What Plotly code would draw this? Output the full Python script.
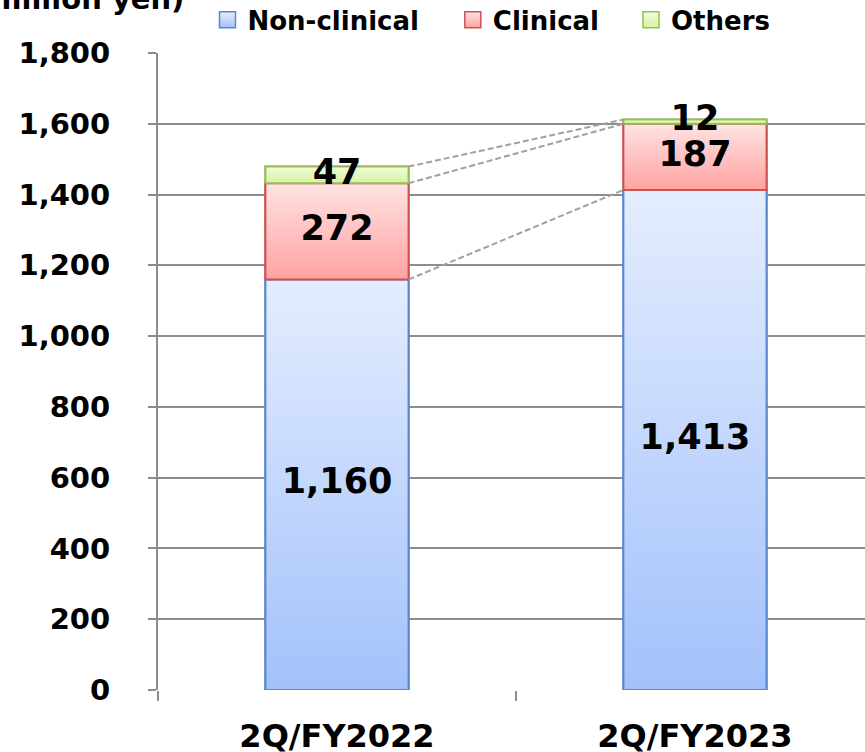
import plotly.graph_objects as go

categories = ["2Q/FY2022", "2Q/FY2023"]
series_names = ["Non-clinical", "Clinical", "Others"]
non_clinical = [1160, 1413]
clinical = [272, 187]
others = [47, 12]
y_ticks = [0, 200, 400, 600, 800, 1000, 1200, 1400, 1600, 1800]

values = [non_clinical, clinical, others]
fill_mid = ["#c4d7fc", "#ffc3c3", "#e3f8c0"]
grad_bottom = ["#a3c1fb", "#ffa2a2", "#d4f3a2"]
grad_top = ["#e4edfe", "#ffe3e3", "#f0fddc"]
borders = ["#5a88cc", "#cc5250", "#9bbb59"]
legend_ids = ["legend", "legend2", "legend3"]
legend_x = [0.070, 0.417, 0.669]

FONT = "DejaVu Sans"
xpos = [0, 1]
bw = 0.4

fig = go.Figure()

# stacked bars
bases = [0, 0]
seg_bounds = []
for vals, name, col, bc in zip(values, series_names, fill_mid, borders):
    fig.add_trace(go.Bar(x=xpos, y=vals, base=bases, width=bw, name=name,
                         marker=dict(color=col, line=dict(color=bc, width=2)),
                         showlegend=False, hoverinfo="skip"))
    seg_bounds.append((list(bases), [b + v for b, v in zip(bases, vals)]))
    bases = [b + v for b, v in zip(bases, vals)]

# gradient overlay on each segment (same geometry as bars)
for (lo, hi), gb, gt, bc in zip(seg_bounds, grad_bottom, grad_top, borders):
    for xi, l, h in zip(xpos, lo, hi):
        fig.add_trace(go.Scatter(
            x=[xi - bw / 2, xi + bw / 2, xi + bw / 2, xi - bw / 2, xi - bw / 2],
            y=[l, l, h, h, l], mode="lines", fill="toself",
            fillgradient=dict(type="vertical", colorscale=[[0, gb], [1, gt]]),
            line=dict(color=bc, width=2), showlegend=False, hoverinfo="skip"))

# dashed connector lines between cumulative tops
for lo, hi in seg_bounds:
    fig.add_trace(go.Scatter(x=[xpos[0] + bw / 2, xpos[1] - bw / 2], y=hi, mode="lines",
                             line=dict(color="#a0a0a0", width=2, dash="6px,3px"),
                             showlegend=False, hoverinfo="skip"))

# value labels
for (lo, hi), vals in zip(seg_bounds, values):
    fig.add_trace(go.Scatter(x=xpos, y=[(l + h) / 2 for l, h in zip(lo, hi)], mode="text",
                             text=[f"{v:,}" for v in vals],
                             textfont=dict(family=FONT, size=35, color="black", weight="bold"),
                             textposition="middle center", showlegend=False, hoverinfo="skip"))

# legend entries
for name, gb, gt, bc, lid in zip(series_names, grad_bottom, grad_top, borders, legend_ids):
    fig.add_trace(go.Scatter(x=[None], y=[None], mode="markers", name=name, legend=lid,
                             marker=dict(symbol="square", size=18, color=gt,
                                         gradient=dict(type="vertical", color=gb),
                                         line=dict(color=bc, width=1.5))))

legend_common = dict(orientation="h", xanchor="left", y=1.052, yanchor="middle",
                     font=dict(family=FONT, size=26, color="black", weight="bold"),
                     bgcolor="rgba(0,0,0,0)", itemsizing="trace")

fig.update_layout(
    width=865, height=752,
    margin=dict(l=158, r=0, t=53, b=62, autoexpand=False),
    plot_bgcolor="white", paper_bgcolor="white",
    barmode="overlay",
    font=dict(family=FONT, color="black"),
    legend=dict(x=legend_x[0], **legend_common),
    legend2=dict(x=legend_x[1], **legend_common),
    legend3=dict(x=legend_x[2], **legend_common),
    xaxis=dict(range=[-0.5, 1.475], tickvals=xpos, ticktext=categories, ticks="",
               showgrid=False, zeroline=False, showline=False, automargin=False,
               minor=dict(tickvals=[-0.5, 0.5], ticks="outside", ticklen=10,
                          tickcolor="#8c8c8c", tickwidth=2, showgrid=False),
               tickfont=dict(family=FONT, size=32, color="black", weight="bold"),
               ticklabelstandoff=24, fixedrange=True),
    yaxis=dict(range=[0, 1800], tickvals=y_ticks, ticktext=[f"{t:,}" for t in y_ticks],
               showgrid=True, gridcolor="#8c8c8c", gridwidth=2, zeroline=False,
               showline=True, linecolor="#8c8c8c", linewidth=2, automargin=False,
               ticks="outside", ticklen=8, tickcolor="#8c8c8c", tickwidth=2,
               tickfont=dict(family=FONT, size=29, color="black", weight="bold"),
               ticklabelstandoff=32, fixedrange=True),
    annotations=[dict(text="(million yen)", xref="paper", yref="paper",
                      x=0.0395, y=1.085, xanchor="right", yanchor="middle", showarrow=False,
                      font=dict(family=FONT, size=29, color="black", weight="bold"))],
)

fig.write_html("out.html", config={"displayModeBar": False},
               post_script="document.body.style.margin='0';document.body.style.padding='0';")
